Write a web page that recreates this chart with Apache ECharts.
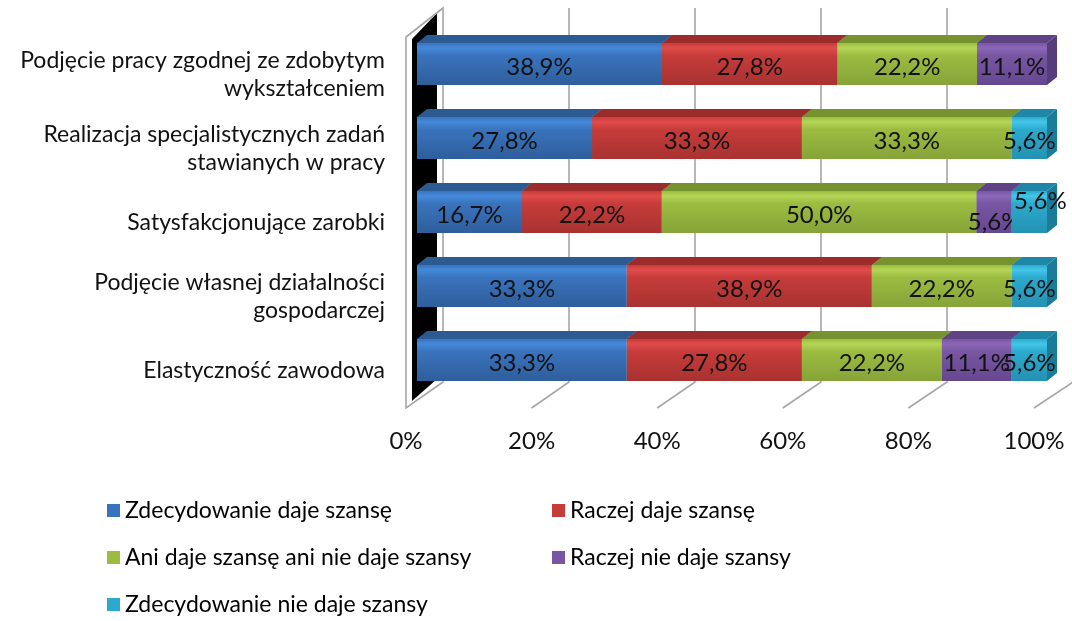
<!DOCTYPE html>
<html>
<head>
<meta charset="utf-8">
<script src="https://cdn.jsdelivr.net/npm/echarts@6/dist/echarts.min.js"></script>
<style>
  html, body { margin: 0; padding: 0; background: #fff; }
  #chart { width: 1072px; height: 621px; }
</style>
</head>
<body>
<div id="chart"></div>
<script>
// dane
const categories = [
  'Podjęcie pracy zgodnej ze zdobytym\nwykształceniem',
  'Realizacja specjalistycznych zadań\nstawianych w pracy',
  'Satysfakcjonujące zarobki',
  'Podjęcie własnej działalności\ngospodarczej',
  'Elastyczność zawodowa'
];
const seriesNames = [
  'Zdecydowanie daje szansę',
  'Raczej daje szansę',
  'Ani daje szansę ani nie daje szansy',
  'Raczej nie daje szansy',
  'Zdecydowanie nie daje szansy'
];
const zdecydowanieDaje = [38.9, 27.8, 16.7, 33.3, 33.3];
const raczejDaje = [27.8, 33.3, 22.2, 38.9, 27.8];
const aniDajeAniNie = [22.2, 33.3, 50.0, 22.2, 22.2];
const raczejNie = [11.1, 0, 5.6, 0, 11.1];
const zdecydowanieNie = [0, 5.6, 5.6, 5.6, 5.6];
const xTicks = [0, 20, 40, 60, 80, 100];

const values = [zdecydowanieDaje, raczejDaje, aniDajeAniNie, raczejNie, zdecydowanieNie];

// kolory: góra, połysk, środek, dół, bok
const palette = [
  {top: '#2c5a93', hi: '#4489da', mid: '#3a73bd', low: '#2e5e9c', side: '#2a568c'},
  {top: '#9c2c2b', hi: '#e04c4a', mid: '#c63c3a', low: '#a83230', side: '#8f2826'},
  {top: '#77932f', hi: '#b4d556', mid: '#9cbc41', low: '#86a338', side: '#6f8a2a'},
  {top: '#5f4384', hi: '#8c68b8', mid: '#7856a2', low: '#654790', side: '#563c7a'},
  {top: '#1e86a6', hi: '#43c6e8', mid: '#2caacd', low: '#2491b2', side: '#1b7c9a'}
];

const FONT = 'Lato, "Open Sans", sans-serif';
const DX = 10, DY = 8;

// skumulowane (100%) segmenty
const rowTotals = categories.map((c, i) => values.reduce((a, v) => a + v[i], 0));
const stacked = values.map(() => []);
categories.forEach((c, i) => {
  let acc = 0;
  values.forEach((v, s) => {
    const share = v[i] / rowTotals[i] * 100;
    if (v[i] > 0) {
      const prevSmall = s > 0 && values[s - 1][i] > 0 && values[s - 1][i] < 8;
      const nextSmall = s < values.length - 1 && values[s + 1][i] > 0 && values[s + 1][i] < 8;
      let ox = 0, oy = 0;
      if (v[i] < 8 && nextSmall) { oy = 7; }
      else if (v[i] < 8 && prevSmall) { ox = 11; oy = -14; }
      stacked[s].push([acc, acc + share, i, v[i], ox, oy]);
    }
    acc += share;
  });
});

function renderBar(params, api) {
  const start = api.value(0), end = api.value(1), cat = api.value(2);
  const p0 = api.coord([start, cat]);
  const p1 = api.coord([end, cat]);
  const h = api.size([0, 1])[1] * 0.57;
  const top = p0[1] - h / 2, bot = p0[1] + h / 2;
  const x0 = p0[0], x1 = p1[0];
  const c = palette[params.seriesIndex];
  const label = api.value(3).toFixed(1).replace('.', ',') + '%';
  return {
    type: 'group',
    children: [
      {type: 'polygon', shape: {points: [[x1, top], [x1 + DX, top - DY], [x1 + DX, bot - DY], [x1, bot]]},
        style: {fill: c.side}},
      {type: 'polygon', shape: {points: [[x0, top], [x0 + DX, top - DY], [x1 + DX, top - DY], [x1, top]]},
        style: {fill: c.top}},
      {type: 'rect', shape: {x: x0, y: top, width: x1 - x0, height: h},
        style: {fill: new echarts.graphic.LinearGradient(0, 0, 0, 1, [
          {offset: 0, color: c.mid},
          {offset: 0.12, color: c.hi},
          {offset: 0.3, color: c.mid},
          {offset: 1, color: c.low}
        ])}},
      {type: 'text', style: {text: label, x: (x0 + x1) / 2 + api.value(4), y: (top + bot) / 2 + api.value(5) + 3,
        align: 'center', verticalAlign: 'middle', font: '24px ' + FONT, fill: '#111'}}
    ]
  };
}

function renderFrame(params, api) {
  const cs = params.coordSys;
  const gy0 = cs.y, gy1 = cs.y + cs.height;
  const X = v => api.coord([v, 0])[0];
  const line = {stroke: '#a6a6a6', lineWidth: 1.6};
  const children = [];
  // lewa ściana (czarna)
  children.push({type: 'polygon', shape: {points: [
    [X(0) - 5, gy0 + 12], [X(0) + 20, gy0 - 14], [X(0) + 20, gy1 - 18], [X(0) - 5, gy1 + 4]
  ]}, style: {fill: '#000'}});
  children.push({type: 'polygon', shape: {points: [
    [X(0) - 11, gy1 + 11], [X(0) - 11, gy0 + 10], [X(0) + 26, gy0 - 19], [X(0) + 26, gy1 - 15]
  ]}, style: {fill: 'none', stroke: '#a6a6a6', lineWidth: 1.6}});
  xTicks.forEach(v => {
    if (v === 0) return;
    const xb = X(v) + 26;
    children.push({type: 'polyline', shape: {points: [[xb, gy0 - 19], [xb, gy1 - 15], [X(v) - 11 - v * 0.02, gy1 + 11]]},
      style: Object.assign({fill: 'none'}, line)});
  });
  return {type: 'group', children: children};
}

const series = values.map((v, s) => ({
  name: seriesNames[s],
  type: 'custom',
  renderItem: renderBar,
  encode: {x: [0, 1], y: 2},
  itemStyle: {color: palette[s].mid},
  data: stacked[s],
  z: 3,
  silent: true
}));
series.push({
  name: 'frame',
  type: 'custom',
  renderItem: renderFrame,
  data: [[0, 0]],
  encode: {x: 0, y: 1},
  z: 1,
  silent: true
});

const legendCommon = {
  orient: 'vertical',
  top: 499,
  padding: 0,
  itemGap: 24,
  itemWidth: 13,
  itemHeight: 13,
  icon: 'rect',
  selectedMode: false,
  textStyle: {fontSize: 23, fontFamily: FONT, color: '#000', lineHeight: 23}
};

const chart = echarts.init(document.getElementById('chart'));
chart.setOption({
  animation: false,
  grid: [
    {left: 417, width: 630, top: 27, height: 370},
    // przednia krawędź podłogi – tu siedzą etykiety osi
    {left: 406, width: 628, top: 38, height: 370}
  ],
  xAxis: [
    {type: 'value', gridIndex: 0, min: 0, max: 100, interval: 20,
      axisLine: {show: false}, axisTick: {show: false}, splitLine: {show: false}, axisLabel: {show: false}},
    {type: 'value', gridIndex: 1, min: 0, max: 100, interval: 20,
      axisLine: {show: false}, axisTick: {show: false}, splitLine: {show: false},
      axisLabel: {formatter: '{value}%', fontSize: 24, fontFamily: FONT, color: '#111', margin: 21}}
  ],
  yAxis: [
    {type: 'category', gridIndex: 0, data: categories, inverse: true,
      axisLine: {show: false}, axisTick: {show: false}, axisLabel: {show: false}},
    {type: 'category', gridIndex: 1, data: categories, inverse: true,
      axisLine: {show: false}, axisTick: {show: false},
      axisLabel: {interval: 0, hideOverlap: false, margin: 21,
        formatter: v => v.split('\n').map(l => '{c|' + l + '}').join('\n'),
        rich: {c: {fontSize: 23, fontFamily: FONT, color: '#111', lineHeight: 28}}}}
  ],
  legend: [
    Object.assign({left: 107, data: [seriesNames[0], seriesNames[2], seriesNames[4]]}, legendCommon),
    Object.assign({left: 552, data: [seriesNames[1], seriesNames[3]]}, legendCommon)
  ],
  series: series
});
</script>
</body>
</html>
